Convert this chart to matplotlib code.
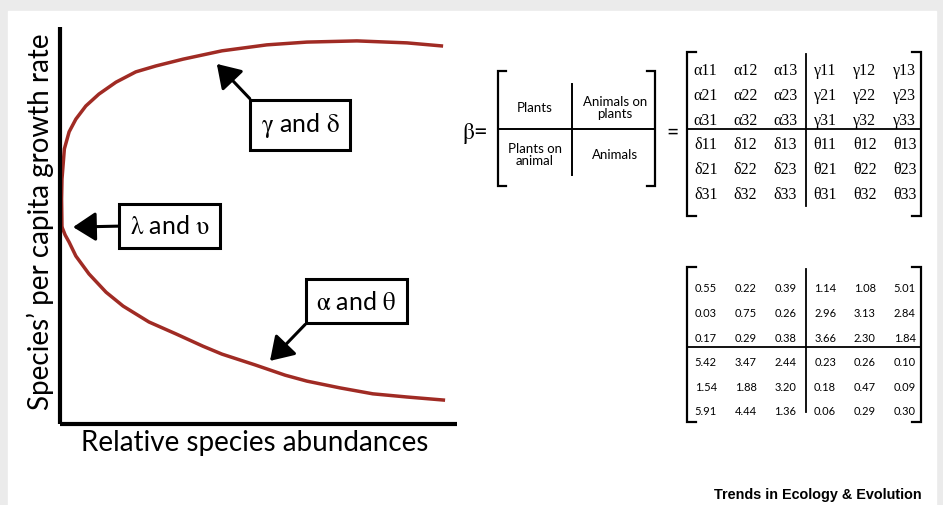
import matplotlib
matplotlib.use("Agg")
import matplotlib.pyplot as plt
from matplotlib.patches import Rectangle

W, H = 943, 506

# curve readings (relative abundance, per capita growth rate)
abundance_upper = [0.005, 0.004, 0.005, 0.008, 0.011, 0.023, 0.040, 0.065,
                   0.098, 0.141, 0.191, 0.242, 0.310, 0.408, 0.521, 0.622,
                   0.748, 0.874, 0.965]
growth_upper = [0.494, 0.567, 0.617, 0.655, 0.693, 0.736, 0.768, 0.801,
                0.831, 0.861, 0.887, 0.902, 0.919, 0.940, 0.955, 0.962,
                0.965, 0.960, 0.952]
abundance_lower = [0.005, 0.013, 0.023, 0.040, 0.073, 0.116, 0.159, 0.224,
                   0.292, 0.360, 0.408, 0.491, 0.567, 0.622, 0.705, 0.788,
                   0.874, 0.970]
growth_lower = [0.496, 0.476, 0.458, 0.423, 0.378, 0.332, 0.297, 0.257,
                0.227, 0.196, 0.176, 0.149, 0.123, 0.108, 0.091, 0.076,
                0.068, 0.060]

# annotation boxes: text, box centre, arrow tip, corner the arrow leaves from
callout_text = [r"$\mathrm{\gamma}$ and $\mathrm{\delta}$",
                r"$\mathrm{\lambda}$ and $\mathrm{\upsilon}$",
                r"$\mathrm{\alpha}$ and $\mathrm{\theta}$"]
callout_box = [(0.605, 0.754), (0.277, 0.499), (0.747, 0.309)]
callout_tip = [(0.395, 0.907), (0.033, 0.496), (0.529, 0.159)]
callout_from = [(0, 1), (0, 0.5), (0, 0)]

block_labels = [["Plants", "Animals on\nplants"],
                ["Plants on\nanimal", "Animals"]]

block_symbols = [["α", "γ"], ["δ", "θ"]]
greek_labels = [[f"{block_symbols[i // 3][j // 3]}{i % 3 + 1}{j % 3 + 1}"
                 for j in range(6)] for i in range(6)]

beta_values = [[0.55, 0.22, 0.39, 1.14, 1.08, 5.01],
               [0.03, 0.75, 0.26, 2.96, 3.13, 2.84],
               [0.17, 0.29, 0.38, 3.66, 2.30, 1.84],
               [5.42, 3.47, 2.44, 0.23, 0.26, 0.10],
               [1.54, 1.88, 3.20, 0.18, 0.47, 0.09],
               [5.91, 4.44, 1.36, 0.06, 0.29, 0.30]]

SANS = ["Lato", "DejaVu Sans"]
plt.rcParams["mathtext.fontset"] = "stix"
plt.rcParams["font.family"] = SANS


def px_axes(fig, x0, y0, x1, y1):
    """axes from pixel box (top-left origin)"""
    return fig.add_axes([x0 / W, 1 - y1 / H, (x1 - x0) / W, (y1 - y0) / H])


def bracket(ax, x, y0, y1, serif, lw=1.6):
    ax.plot([x + serif, x, x, x + serif], [y0, y0, y1, y1],
            color="black", lw=lw, solid_joinstyle="miter", clip_on=False)


fig = plt.figure(figsize=(W / 100, H / 100), dpi=100, facecolor="#ebebeb")
fig.patches.append(Rectangle((8 / W, 0), (936 - 8) / W, (H - 12) / H,
                             transform=fig.transFigure, color="white",
                             zorder=-5))

# ---- growth rate panel ----
ax = px_axes(fig, 60, 28, 457, 425)
ax.set_xlim(0, 1)
ax.set_ylim(0, 1)
ax.patch.set_alpha(0)
for side in ["top", "right"]:
    ax.spines[side].set_visible(False)
for side in ["left", "bottom"]:
    ax.spines[side].set_linewidth(3)
    ax.spines[side].set_capstyle("butt")
ax.set_xticks([])
ax.set_yticks([])

ax.plot(abundance_upper, growth_upper, color="#a02b24", lw=2.5,
        solid_capstyle="butt", solid_joinstyle="round", clip_on=False)
ax.plot(abundance_lower, growth_lower, color="#a02b24", lw=2.5,
        solid_capstyle="butt", solid_joinstyle="round", clip_on=False)

for txt, box, tip, rel in zip(callout_text, callout_box, callout_tip,
                              callout_from):
    ax.annotate(txt, xy=tip, xytext=box, ha="center", va="center",
                fontsize=18,
                bbox=dict(boxstyle="square,pad=0.42", fc="white",
                          ec="black", lw=2.2),
                arrowprops=dict(arrowstyle="-|>,head_length=0.7,head_width=0.45",
                                color="black", lw=2.2, relpos=rel,
                                shrinkA=0, shrinkB=0, mutation_scale=20))

fig.text(255 / W, 1 - 443 / H, "Relative species abundances", fontsize=20,
         ha="center", va="center")
fig.text(40 / W, 1 - 222 / H, "Species’ per capita growth rate", fontsize=20,
         ha="center", va="center", rotation=90)

# ---- beta as blocks ----
fig.text(475 / W, 1 - 133 / H, r"$\mathrm{\beta}$=", fontsize=17,
         ha="center", va="center")
bx = px_axes(fig, 498, 72, 655, 187)
bx.set_xlim(0, 2)
bx.set_ylim(2, 0)
bx.axis("off")
bracket(bx, 0, 0, 2, 0.1)
bracket(bx, 2, 0, 2, -0.1)
bx.plot([0, 2], [1.01, 1.01], color="black", lw=1.4)
bx.plot([0.94, 0.94], [0.23, 1.8], color="black", lw=1.4)
for i, row in enumerate(block_labels):
    for j, label in enumerate(row):
        bx.text([0.47, 1.49][j], [0.63, 1.44][i], label, fontsize=9.5,
                ha="center", va="center", linespacing=1.0)
fig.text(673 / W, 1 - 133 / H, "=", fontsize=15, ha="center", va="center")


def draw_matrix(box, cells, fmt, row_lim, divider, **font):
    mx = px_axes(fig, *box)
    mx.set_xlim(-0.47, 5.41)
    mx.set_ylim(*row_lim)
    mx.axis("off")
    bracket(mx, -0.47, row_lim[1], row_lim[0], 0.22)
    bracket(mx, 5.41, row_lim[1], row_lim[0], -0.22)
    mx.plot([-0.47, 5.41], [divider, divider], color="black", lw=1.3)
    mx.plot([2.51, 2.51], [row_lim[1] + 0.1, row_lim[0] - 0.4],
            color="black", lw=1.3)
    for i, row in enumerate(cells):
        for j, v in enumerate(row):
            mx.text(j, i, fmt(v), ha="center", va="center", **font)


draw_matrix((687, 53, 921, 217), greek_labels, str, (5.89, -0.73), 2.39,
            fontsize=11.5, family=["Liberation Serif", "DejaVu Serif"])
draw_matrix((687, 268, 921, 423), beta_values, lambda v: f"{v:.2f}",
            (5.45, -0.85), 2.40, fontsize=8, family=SANS)

fig.text(922 / W, 1 - 495 / H, "Trends in Ecology & Evolution",
         fontsize=10.4, fontweight="bold", ha="right", va="center",
         family=["Liberation Sans", "DejaVu Sans"])

fig.savefig("out.png", dpi=100, facecolor=fig.get_facecolor())
